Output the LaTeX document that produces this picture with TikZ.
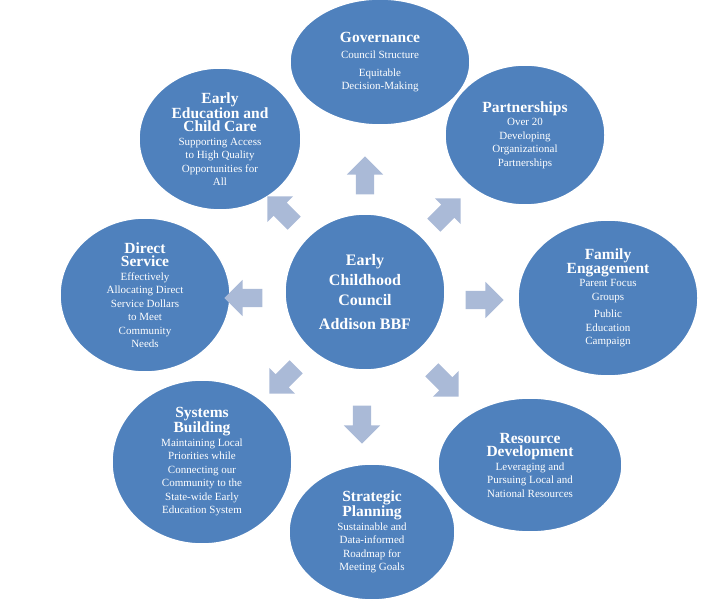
\documentclass[tikz,border=0pt]{standalone}
\usepackage{fontspec}
\setmainfont{Liberation Serif}
\usetikzlibrary{shapes.geometric,shapes.arrows}
\definecolor{topicblue}{RGB}{79,129,189}
\definecolor{arrowgray}{RGB}{170,186,215}
\tikzset{
  topic/.style={ellipse, fill=topicblue, draw=white, line width=1.5pt, text=white, align=center, inner sep=0pt, font=\fontsize{11}{13.5}\selectfont},
  hub/.style={topic, font=\bfseries\fontsize{16}{20}\selectfont},
  pointer/.style={single arrow, fill=arrowgray, minimum height=38pt, single arrow head extend=9pt, inner sep=9pt}
}
\newcommand{\ttl}[1]{{\bfseries\fontsize{15.5}{16}\selectfont #1}}
\begin{document}
\begin{tikzpicture}[x=1pt,y=-1pt]
\useasboundingbox (0,0) rectangle (728,601);
\node[hub, minimum width=160, minimum height=156] (hub) at (365,292) {Early\\Childhood\\Council\\[4pt]Addison BBF};
\node[topic, minimum width=180, minimum height=126] (gov) at (380,62) {\ttl{Governance}\\[3pt]Council Structure\\[4pt]Equitable\\Decision-Making};
\node[topic, minimum width=160, minimum height=140] (part) at (525,135) {\ttl{Partnerships}\\Over 20\\Developing\\Organizational\\Partnerships};
\node[topic, minimum width=180, minimum height=156] (fam) at (608,298) {\ttl{Family}\\\ttl{Engagement}\\Parent Focus\\Groups\\[4pt]Public\\Education\\Campaign};
\node[topic, minimum width=184, minimum height=134] (res) at (530,465) {\ttl{Resource}\\\ttl{Development}\\Leveraging and\\Pursuing Local and\\National Resources};
\node[topic, minimum width=166, minimum height=136] (strat) at (372,532) {\ttl{Strategic}\\\ttl{Planning}\\Sustainable and\\Data-informed\\Roadmap for\\Meeting Goals};
\node[topic, minimum width=180, minimum height=164] (sys) at (202,462) {\ttl{Systems}\\\ttl{Building}\\Maintaining Local\\Priorities while\\Connecting our\\Community to the\\State-wide Early\\Education System};
\node[topic, minimum width=170, minimum height=154] (dir) at (145,295) {\ttl{Direct}\\\ttl{Service}\\Effectively\\Allocating Direct\\Service Dollars\\to Meet\\Community\\Needs};
\node[topic, minimum width=162, minimum height=142] (edu) at (220,139) {\ttl{Early}\\\ttl{Education and}\\\ttl{Child Care}\\Supporting Access\\to High Quality\\Opportunities for\\All};
% arrows around the hub
\node[pointer, rotate=90] (upA) at (365,180) {};
\node[pointer, rotate=45] (urA) at (444,215) {};
\node[pointer, rotate=0] (rA) at (480,300) {};
\node[pointer, rotate=-45] (drA) at (442,380) {};
\node[pointer, rotate=-90] (dA) at (362,420) {};
\node[pointer, rotate=-135] (dlA) at (286,377) {};
\node[pointer, rotate=180] (lA) at (248,298) {};
\node[pointer, rotate=135] (ulA) at (284,213) {};
\end{tikzpicture}
\end{document}
